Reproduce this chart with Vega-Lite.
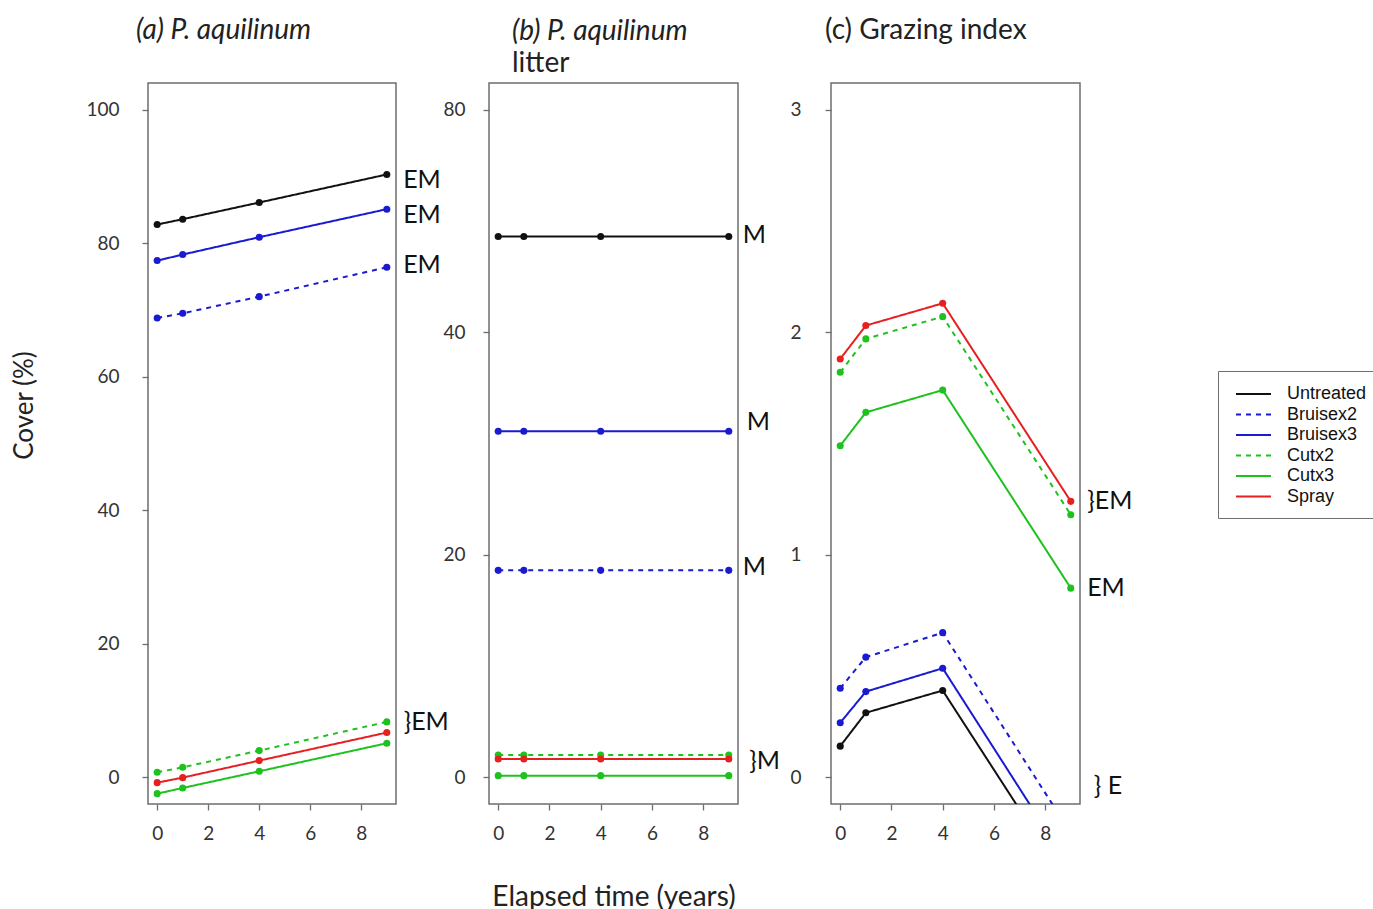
{
  "$schema": "https://vega.github.io/schema/vega-lite/v6.json",
  "padding": {"left": 11, "top": 16, "right": 0, "bottom": 0},
  "background": "white",
  "bounds": "flush",
  "spacing": 93,
  "config": {
    "font": "Lato",
    "view": {"stroke": "#6e6e6e", "strokeWidth": 1.5},
    "axis": {"domain": false, "grid": false, "tickColor": "#6e6e6e", "tickSize": 6, "tickWidth": 1.3, "labelFont": "Lato", "labelFontSize": 19, "labelColor": "#333", "titleFont": "Lato", "titleFontWeight": "normal", "titleColor": "#222"},
    "title": {"anchor": "start", "frame": "group", "font": "Lato", "fontSize": 28, "fontStyle": "italic", "fontWeight": "normal", "color": "#222", "subtitleFont": "Lato", "subtitleFontSize": 28, "subtitleColor": "#222"}
  },
  "datasets": {
    "d": [
      {"panel": "a", "treatment": "Untreated", "time": 0, "value": 82.8},
      {"panel": "a", "treatment": "Untreated", "time": 1, "value": 83.6},
      {"panel": "a", "treatment": "Untreated", "time": 4, "value": 86.1},
      {"panel": "a", "treatment": "Untreated", "time": 9, "value": 90.3},
      {"panel": "a", "treatment": "Bruisex3", "time": 0, "value": 77.4},
      {"panel": "a", "treatment": "Bruisex3", "time": 1, "value": 78.3},
      {"panel": "a", "treatment": "Bruisex3", "time": 4, "value": 80.9},
      {"panel": "a", "treatment": "Bruisex3", "time": 9, "value": 85.1},
      {"panel": "a", "treatment": "Bruisex2", "time": 0, "value": 68.8},
      {"panel": "a", "treatment": "Bruisex2", "time": 1, "value": 69.5},
      {"panel": "a", "treatment": "Bruisex2", "time": 4, "value": 72.0},
      {"panel": "a", "treatment": "Bruisex2", "time": 9, "value": 76.4},
      {"panel": "a", "treatment": "Cutx2", "time": 0, "value": 0.75},
      {"panel": "a", "treatment": "Cutx2", "time": 1, "value": 1.5},
      {"panel": "a", "treatment": "Cutx2", "time": 4, "value": 4.0},
      {"panel": "a", "treatment": "Cutx2", "time": 9, "value": 8.3},
      {"panel": "a", "treatment": "Spray", "time": 0, "value": -0.8},
      {"panel": "a", "treatment": "Spray", "time": 1, "value": -0.05},
      {"panel": "a", "treatment": "Spray", "time": 4, "value": 2.5},
      {"panel": "a", "treatment": "Spray", "time": 9, "value": 6.7},
      {"panel": "a", "treatment": "Cutx3", "time": 0, "value": -2.45},
      {"panel": "a", "treatment": "Cutx3", "time": 1, "value": -1.6},
      {"panel": "a", "treatment": "Cutx3", "time": 4, "value": 0.9},
      {"panel": "a", "treatment": "Cutx3", "time": 9, "value": 5.1},
      {"panel": "b", "treatment": "Untreated", "time": 0, "value": 48.6},
      {"panel": "b", "treatment": "Untreated", "time": 1, "value": 48.6},
      {"panel": "b", "treatment": "Untreated", "time": 4, "value": 48.6},
      {"panel": "b", "treatment": "Untreated", "time": 9, "value": 48.6},
      {"panel": "b", "treatment": "Bruisex3", "time": 0, "value": 31.1},
      {"panel": "b", "treatment": "Bruisex3", "time": 1, "value": 31.1},
      {"panel": "b", "treatment": "Bruisex3", "time": 4, "value": 31.1},
      {"panel": "b", "treatment": "Bruisex3", "time": 9, "value": 31.1},
      {"panel": "b", "treatment": "Bruisex2", "time": 0, "value": 18.6},
      {"panel": "b", "treatment": "Bruisex2", "time": 1, "value": 18.6},
      {"panel": "b", "treatment": "Bruisex2", "time": 4, "value": 18.6},
      {"panel": "b", "treatment": "Bruisex2", "time": 9, "value": 18.6},
      {"panel": "b", "treatment": "Cutx2", "time": 0, "value": 2.0},
      {"panel": "b", "treatment": "Cutx2", "time": 1, "value": 2.0},
      {"panel": "b", "treatment": "Cutx2", "time": 4, "value": 2.0},
      {"panel": "b", "treatment": "Cutx2", "time": 9, "value": 2.0},
      {"panel": "b", "treatment": "Spray", "time": 0, "value": 1.65},
      {"panel": "b", "treatment": "Spray", "time": 1, "value": 1.65},
      {"panel": "b", "treatment": "Spray", "time": 4, "value": 1.65},
      {"panel": "b", "treatment": "Spray", "time": 9, "value": 1.65},
      {"panel": "b", "treatment": "Cutx3", "time": 0, "value": 0.15},
      {"panel": "b", "treatment": "Cutx3", "time": 1, "value": 0.15},
      {"panel": "b", "treatment": "Cutx3", "time": 4, "value": 0.15},
      {"panel": "b", "treatment": "Cutx3", "time": 9, "value": 0.15},
      {"panel": "c", "treatment": "Untreated", "time": 0, "value": 0.14},
      {"panel": "c", "treatment": "Untreated", "time": 1, "value": 0.29},
      {"panel": "c", "treatment": "Untreated", "time": 4, "value": 0.39},
      {"panel": "c", "treatment": "Untreated", "time": 9, "value": -0.5},
      {"panel": "c", "treatment": "Bruisex3", "time": 0, "value": 0.245},
      {"panel": "c", "treatment": "Bruisex3", "time": 1, "value": 0.385},
      {"panel": "c", "treatment": "Bruisex3", "time": 4, "value": 0.49},
      {"panel": "c", "treatment": "Bruisex3", "time": 9, "value": -0.41},
      {"panel": "c", "treatment": "Bruisex2", "time": 0, "value": 0.4},
      {"panel": "c", "treatment": "Bruisex2", "time": 1, "value": 0.54},
      {"panel": "c", "treatment": "Bruisex2", "time": 4, "value": 0.65},
      {"panel": "c", "treatment": "Bruisex2", "time": 9, "value": -0.25},
      {"panel": "c", "treatment": "Cutx3", "time": 0, "value": 1.49},
      {"panel": "c", "treatment": "Cutx3", "time": 1, "value": 1.64},
      {"panel": "c", "treatment": "Cutx3", "time": 4, "value": 1.74},
      {"panel": "c", "treatment": "Cutx3", "time": 9, "value": 0.85},
      {"panel": "c", "treatment": "Cutx2", "time": 0, "value": 1.82},
      {"panel": "c", "treatment": "Cutx2", "time": 1, "value": 1.97},
      {"panel": "c", "treatment": "Cutx2", "time": 4, "value": 2.07},
      {"panel": "c", "treatment": "Cutx2", "time": 9, "value": 1.18},
      {"panel": "c", "treatment": "Spray", "time": 0, "value": 1.88},
      {"panel": "c", "treatment": "Spray", "time": 1, "value": 2.03},
      {"panel": "c", "treatment": "Spray", "time": 4, "value": 2.13},
      {"panel": "c", "treatment": "Spray", "time": 9, "value": 1.24}
    ],
    "ann": [
      {"panel": "a", "label": "EM", "time": 9.64, "value": 89.4},
      {"panel": "a", "label": "EM", "time": 9.64, "value": 84.2},
      {"panel": "a", "label": "EM", "time": 9.64, "value": 76.8},
      {"panel": "a", "label": "}EM", "time": 9.66, "value": 8.3},
      {"panel": "b", "label": "M", "time": 9.55, "value": 48.7},
      {"panel": "b", "label": "M", "time": 9.7, "value": 31.9},
      {"panel": "b", "label": "M", "time": 9.55, "value": 18.9},
      {"panel": "b", "label": "}M", "time": 9.8, "value": 1.5},
      {"panel": "c", "label": "}EM", "time": 9.64, "value": 1.24},
      {"panel": "c", "label": "EM", "time": 9.64, "value": 0.85},
      {"panel": "c", "label": "} E", "time": 9.9, "value": -0.04}
    ]
  },
  "resolve": {"legend": {"color": "independent", "strokeDash": "independent"}},
  "hconcat": [
    {
      "width": 248, "height": 721,
      "title": {"text": "(a) P. aquilinum", "dx": -12, "offset": 38},
      "layer": [
        {
          "data": {"name": "d"},
          "transform": [{"filter": "datum.panel == 'a'"}],
          "mark": {"type": "line", "strokeWidth": 2, "clip": true},
          "encoding": {
            "x": {"field": "time", "type": "quantitative", "scale": {"domain": [-0.36, 9.36], "nice": false, "zero": false}, "axis": {"values": [0, 2, 4, 6, 8], "title": null, "labelPadding": 14}},
            "y": {"field": "value", "type": "quantitative", "scale": {"domain": [-4, 104], "nice": false, "zero": false}, "axis": {"values": [0, 20, 40, 60, 80, 100], "title": "Cover (%)", "titleFontSize": 26, "titleY": 322, "titlePadding": 48, "labelPadding": 23}},
            "color": {"field": "treatment", "type": "nominal", "scale": {"domain": ["Untreated", "Bruisex2", "Bruisex3", "Cutx2", "Cutx3", "Spray"], "range": ["#111111", "#1a1ad0", "#1a1ad0", "#1ec21e", "#1ec21e", "#e62020"]}, "legend": null},
            "strokeDash": {"field": "treatment", "type": "nominal", "scale": {"domain": ["Untreated", "Bruisex2", "Bruisex3", "Cutx2", "Cutx3", "Spray"], "range": [[1, 0], [5, 5], [1, 0], [5, 5], [1, 0], [1, 0]]}, "legend": null}
          }
        },
        {
          "data": {"name": "d"},
          "transform": [{"filter": "datum.panel == 'a'"}],
          "mark": {"type": "point", "filled": true, "size": 50, "opacity": 1, "clip": true},
          "encoding": {
            "x": {"field": "time", "type": "quantitative"},
            "y": {"field": "value", "type": "quantitative"},
            "color": {"field": "treatment", "type": "nominal", "legend": null}
          }
        },
        {
          "data": {"name": "ann"},
          "transform": [{"filter": "datum.panel == 'a'"}],
          "mark": {"type": "text", "align": "left", "baseline": "middle", "fontSize": 25, "font": "Lato", "color": "#111"},
          "encoding": {
            "x": {"field": "time", "type": "quantitative"},
            "y": {"field": "value", "type": "quantitative"},
            "text": {"field": "label"}
          }
        }
      ]
    },
    {
      "width": 249, "height": 721,
      "title": {"text": "(b) P. aquilinum", "subtitle": "\u00a0\u00a0\u00a0\u00a0\u00a0\u00a0\u00a0\u00a0litter", "subtitlePadding": 4, "dx": 23, "offset": 5},
      "layer": [
        {
          "data": {"name": "d"},
          "transform": [{"filter": "datum.panel == 'b'"}],
          "mark": {"type": "line", "strokeWidth": 2, "clip": true},
          "encoding": {
            "x": {"field": "time", "type": "quantitative", "scale": {"domain": [-0.36, 9.36], "nice": false, "zero": false}, "axis": {"values": [0, 2, 4, 6, 8], "title": "Elapsed time (years)", "titleFontSize": 28, "titlePadding": 40, "labelPadding": 14}},
            "y": {"field": "value", "type": "quantitative", "scale": {"domain": [-2.4, 62.4], "nice": false, "zero": false}, "axis": {"values": [0, 20, 40, 60], "labelExpr": "datum.value == 60 ? '80' : datum.label", "title": null, "labelPadding": 18}},
            "color": {"field": "treatment", "type": "nominal", "scale": {"domain": ["Untreated", "Bruisex2", "Bruisex3", "Cutx2", "Cutx3", "Spray"], "range": ["#111111", "#1a1ad0", "#1a1ad0", "#1ec21e", "#1ec21e", "#e62020"]}, "legend": null},
            "strokeDash": {"field": "treatment", "type": "nominal", "scale": {"domain": ["Untreated", "Bruisex2", "Bruisex3", "Cutx2", "Cutx3", "Spray"], "range": [[1, 0], [5, 5], [1, 0], [5, 5], [1, 0], [1, 0]]}, "legend": null}
          }
        },
        {
          "data": {"name": "d"},
          "transform": [{"filter": "datum.panel == 'b'"}],
          "mark": {"type": "point", "filled": true, "size": 50, "opacity": 1, "clip": true},
          "encoding": {
            "x": {"field": "time", "type": "quantitative"},
            "y": {"field": "value", "type": "quantitative"},
            "color": {"field": "treatment", "type": "nominal", "legend": null}
          }
        },
        {
          "data": {"name": "ann"},
          "transform": [{"filter": "datum.panel == 'b'"}],
          "mark": {"type": "text", "align": "left", "baseline": "middle", "fontSize": 25, "font": "Lato", "color": "#111"},
          "encoding": {
            "x": {"field": "time", "type": "quantitative"},
            "y": {"field": "value", "type": "quantitative"},
            "text": {"field": "label"}
          }
        }
      ]
    },
    {
      "width": 249, "height": 721,
      "title": {"text": "(c) Grazing index", "fontStyle": "normal", "dx": -6, "offset": 38},
      "layer": [
        {
          "data": {"name": "d"},
          "transform": [{"filter": "datum.panel == 'c'"}],
          "mark": {"type": "line", "strokeWidth": 2, "clip": true},
          "encoding": {
            "x": {"field": "time", "type": "quantitative", "scale": {"domain": [-0.36, 9.36], "nice": false, "zero": false}, "axis": {"values": [0, 2, 4, 6, 8], "title": null, "labelPadding": 14}},
            "y": {"field": "value", "type": "quantitative", "scale": {"domain": [-0.12, 3.12], "nice": false, "zero": false}, "axis": {"values": [0, 1, 2, 3], "format": "d", "title": null, "labelPadding": 24}},
            "color": {"field": "treatment", "type": "nominal", "scale": {"domain": ["Untreated", "Bruisex2", "Bruisex3", "Cutx2", "Cutx3", "Spray"], "range": ["#111111", "#1a1ad0", "#1a1ad0", "#1ec21e", "#1ec21e", "#e62020"]},
              "legend": {"orient": "none", "legendX": 387, "legendY": 288, "title": null, "symbolType": "M-0.5,0H3", "symbolSize": 400, "symbolStrokeWidth": 2, "labelFont": "Liberation Sans", "labelFontSize": 18, "labelColor": "#111", "labelOffset": 35, "padding": 12, "strokeColor": "#6e6e6e", "fillColor": "white", "rowPadding": 0.5}},
            "strokeDash": {"field": "treatment", "type": "nominal", "scale": {"domain": ["Untreated", "Bruisex2", "Bruisex3", "Cutx2", "Cutx3", "Spray"], "range": [[1, 0], [4, 4], [1, 0], [4, 4], [1, 0], [1, 0]]},
              "legend": {"orient": "none", "legendX": 387, "legendY": 288, "title": null, "symbolType": "M-0.5,0H3", "symbolSize": 400, "symbolStrokeWidth": 2, "labelFont": "Liberation Sans", "labelFontSize": 18, "labelColor": "#111", "labelOffset": 35, "padding": 12, "strokeColor": "#6e6e6e", "fillColor": "white", "rowPadding": 0.5}}
          }
        },
        {
          "data": {"name": "d"},
          "transform": [{"filter": "datum.panel == 'c'"}],
          "mark": {"type": "point", "filled": true, "size": 50, "opacity": 1, "clip": true},
          "encoding": {
            "x": {"field": "time", "type": "quantitative"},
            "y": {"field": "value", "type": "quantitative"},
            "color": {"field": "treatment", "type": "nominal", "legend": null}
          }
        },
        {
          "data": {"name": "ann"},
          "transform": [{"filter": "datum.panel == 'c'"}],
          "mark": {"type": "text", "align": "left", "baseline": "middle", "fontSize": 25, "font": "Lato", "color": "#111"},
          "encoding": {
            "x": {"field": "time", "type": "quantitative"},
            "y": {"field": "value", "type": "quantitative"},
            "text": {"field": "label"}
          }
        }
      ]
    }
  ]
}
